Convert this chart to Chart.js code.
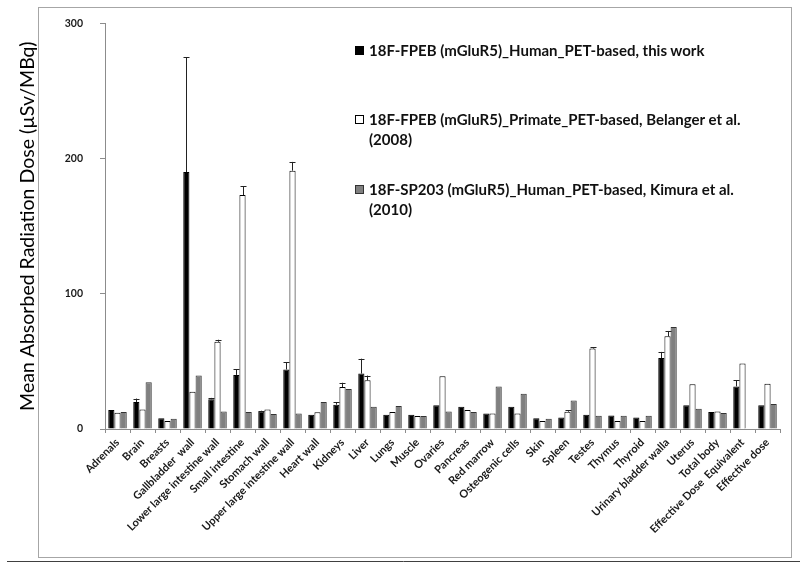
<!DOCTYPE html>
<html>
<head>
<meta charset="utf-8">
<script src="https://cdn.jsdelivr.net/npm/chart.js@4"></script>
<style>
  html, body { margin: 0; padding: 0; background: #fff; }
  #wrap { position: relative; width: 800px; height: 569px; }
  canvas { position: absolute; left: 0; top: 0; }
  #legend { position: absolute; left: 355px; top: 0; font-family: Lato, "Open Sans", sans-serif; font-weight: bold; font-size: 15px; color: #111; }
  .item { position: absolute; left: 0; display: flex; align-items: flex-start; white-space: nowrap; line-height: 20px; }
  .sw { width: 7px; height: 7px; border: 1px solid #000; margin-top: 6px; margin-right: 5px; flex: none; }
</style>
</head>
<body>
<div id="wrap">
  <canvas id="c" width="800" height="569"></canvas>
  <div id="legend"></div>
</div>
<script>
const categories = ["Adrenals", "Brain", "Breasts", "Gallbladder  wall", "Lower large intestine wall", "Small intestine", "Stomach wall", "Upper large intestine wall", "Heart wall", "Kidneys", "Liver", "Lungs", "Muscle", "Ovaries", "Pancreas", "Red marrow", "Osteogenic cells", "Skin", "Spleen", "Testes", "Thymus", "Thyroid", "Urinary bladder walla", "Uterus", "Total body", "Effective Dose  Equivalent", "Effective dose"];

const seriesNames = [
  ["18F-FPEB (mGluR5)_Human_PET-based, this work"],
  ["18F-FPEB (mGluR5)_Primate_PET-based, Belanger et al.", "(2008)"],
  ["18F-SP203 (mGluR5)_Human_PET-based, Kimura et al.", "(2010)"]
];

const humanValues   = [14, 20, 8, 190, 22, 40, 13, 44, 10.5, 18, 41, 10.5, 10.5, 17.5, 16.5, 11.5, 16.5, 8, 8.5, 10.5, 10, 8.5, 52.5, 17.5, 12.5, 31.5, 17.5];
const humanErrors   = [0, 2.5, 0, 85, 1, 4, 0.5, 5.5, 0, 1.7, 11, 0, 0, 0, 0, 0, 0, 0, 0, 0, 0, 0, 4.5, 0, 0, 4.5, 0];
const primateValues = [12, 14.5, 6, 27.5, 64.5, 173, 14.5, 191, 12.3, 31, 36, 12.5, 9.6, 39, 14, 11.5, 11.5, 6, 12.8, 59.5, 6, 6, 68.5, 33, 13, 48.5, 33.5];
const primateErrors = [0, 0, 0, 0, 1.5, 6.5, 0, 6.5, 0, 3.2, 3.5, 0, 0, 0, 0, 0, 0, 0, 1, 1, 0, 0, 4, 0, 0, 0, 0];
const kimuraValues  = [12.5, 34.5, 7.5, 39.5, 13, 12.5, 11, 11.5, 20, 29.5, 16.5, 17, 9.6, 13, 12.5, 31.5, 26, 7.5, 21, 9.8, 9.8, 9.8, 75.5, 15, 11.8, 0, 18.5];

const yTicks = [0, 100, 200, 300];
const yTitle = "Mean Absorbed Radiation Dose (\u00B5Sv/MBq)";

const fills = ["#000000", "#ffffff", "#808080"];
const borders = ["#000000", "#000000", "#333333"];

// HTML legend
const legendTops = [40, 109, 179];
const leg = document.getElementById('legend');
seriesNames.forEach((lines, i) => {
  const it = document.createElement('div');
  it.className = 'item';
  it.style.top = legendTops[i] + 'px';
  const sw = document.createElement('div');
  sw.className = 'sw';
  sw.style.background = fills[i];
  sw.style.borderColor = borders[i];
  const tx = document.createElement('div');
  tx.innerHTML = lines.map(l => l.replace(/&/g, '&amp;').replace(/</g, '&lt;')).join('<br>');
  it.appendChild(sw); it.appendChild(tx);
  leg.appendChild(it);
});

const framePlugin = {
  id: 'frame',
  beforeDraw(chart) {
    const ctx = chart.ctx;
    ctx.save();
    ctx.fillStyle = '#fff';
    ctx.fillRect(0, 0, chart.width, chart.height);
    ctx.strokeStyle = '#a6a6a6';
    ctx.lineWidth = 1;
    ctx.strokeRect(38.5, 7.5, 753, 550);
    ctx.strokeStyle = '#404040';
    ctx.beginPath();
    ctx.moveTo(7, 561.5);
    ctx.lineTo(800, 561.5);
    ctx.stroke();
    ctx.restore();
  }
};

const errorPlugin = {
  id: 'errbars',
  afterDatasetsDraw(chart) {
    const ctx = chart.ctx;
    const yScale = chart.scales.y;
    ctx.save();
    chart.data.datasets.forEach((ds, di) => {
      if (!ds.errors) return;
      const meta = chart.getDatasetMeta(di);
      meta.data.forEach((el, i) => {
        const e = ds.errors[i];
        if (!e) return;
        const x = Math.round(el.x) + 0.5;
        const yTop = yScale.getPixelForValue(ds.data[i] + e);
        const yBase = el.y;
        ctx.strokeStyle = '#222';
        ctx.lineWidth = 1;
        ctx.beginPath();
        ctx.moveTo(x, yBase);
        ctx.lineTo(x, yTop);
        ctx.moveTo(x - 3, Math.round(yTop) + 0.5);
        ctx.lineTo(x + 3, Math.round(yTop) + 0.5);
        ctx.stroke();
      });
    });
    ctx.restore();
  }
};

const PLOT_LEFT = 105, PLOT_BOTTOM = 429;

new Chart(document.getElementById('c'), {
  type: 'bar',
  data: {
    labels: categories,
    datasets: [
      { label: seriesNames[0].join(' '), data: humanValues, errors: humanErrors, backgroundColor: fills[0], borderColor: borders[0], borderWidth: 1 },
      { label: seriesNames[1].join(' '), data: primateValues, errors: primateErrors, backgroundColor: fills[1], borderColor: borders[1], borderWidth: 1 },
      { label: seriesNames[2].join(' '), data: kimuraValues, backgroundColor: fills[2], borderColor: borders[2], borderWidth: 1 }
    ]
  },
  options: {
    responsive: false,
    animation: false,
    devicePixelRatio: 1,
    layout: { padding: { top: 22, right: 20, bottom: 0, left: 0 } },
    datasets: { bar: { categoryPercentage: 0.74, barPercentage: 1.0 } },
    plugins: {
      legend: { display: false },
      tooltip: { enabled: false }
    },
    scales: {
      x: {
        afterFit(scale) { scale.height = 569 - PLOT_BOTTOM; },
        border: { color: '#8c8c8c', width: 1 },
        grid: { display: true, drawOnChartArea: false, drawTicks: true, tickLength: 4, color: '#8c8c8c', offset: true },
        ticks: {
          autoSkip: false,
          minRotation: 45,
          maxRotation: 45,
          padding: 3,
          color: '#1a1a1a',
          font: { family: 'Lato, "Open Sans", sans-serif', size: 11, weight: 'bold' }
        }
      },
      y: {
        min: 0, max: 300,
        afterFit(scale) { scale.width = PLOT_LEFT; },
        afterBuildTicks(scale) { scale.ticks = yTicks.map(v => ({ value: v })); },
        border: { color: '#8c8c8c', width: 1 },
        grid: { display: true, drawOnChartArea: false, drawTicks: true, tickLength: 5, color: '#8c8c8c' },
        ticks: {
          padding: 17,
          color: '#1a1a1a',
          font: { family: 'Lato, "Open Sans", sans-serif', size: 10.5, weight: 'bold' }
        },
        title: {
          display: true,
          text: yTitle,
          color: '#000',
          padding: { top: 16, bottom: 0 },
          font: { family: 'Lato, "Open Sans", sans-serif', size: 19.5, weight: 'normal' }
        }
      }
    }
  },
  plugins: [framePlugin, errorPlugin]
});
</script>
</body>
</html>
